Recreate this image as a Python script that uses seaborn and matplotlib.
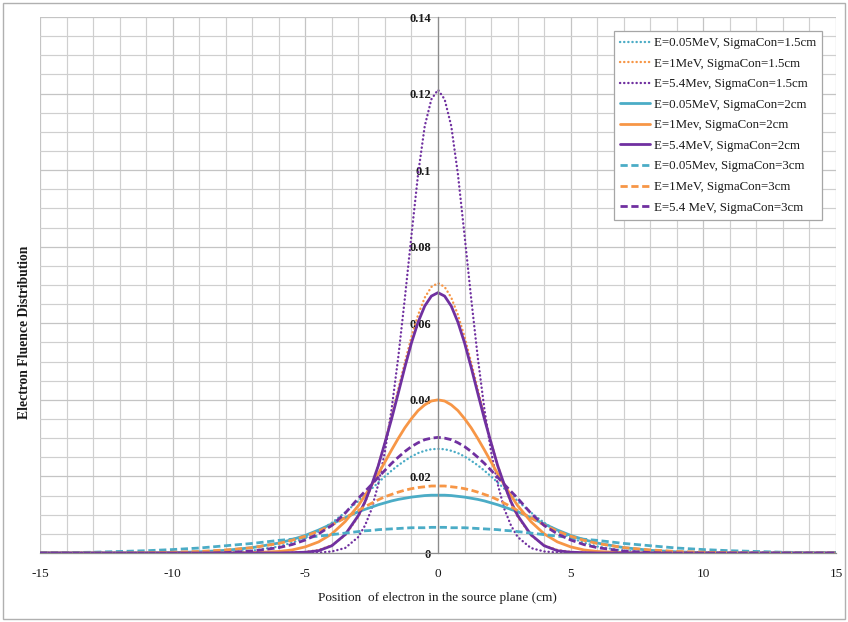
import numpy as np
import pandas as pd
import seaborn as sns
import matplotlib
matplotlib.use("Agg")
import matplotlib.pyplot as plt
from matplotlib.patches import Rectangle

# Position in the source plane (cm)
x_pos = [-15, -14, -13, -12, -11, -10, -9, -8, -7,
         -6, -5.5, -5, -4.5, -4, -3.5,
         -3, -2.75, -2.5, -2.25, -2, -1.75, -1.5, -1.25, -1, -0.75, -0.5, -0.25,
         0, 0.25, 0.5, 0.75, 1, 1.25, 1.5, 1.75, 2, 2.25, 2.5, 2.75, 3,
         3.5, 4, 4.5, 5, 5.5, 6,
         7, 8, 9, 10, 11, 12, 13, 14, 15]

# SigmaCon = 1.5 cm
e005_s15 = [0, 0, 0, 0, 0, 0, 0.0001, 0.0002, 0.0006,
            0.0017, 0.0027, 0.0040, 0.0057, 0.0079, 0.0106,
            0.0136, 0.0152, 0.0168, 0.0184, 0.0200, 0.0215, 0.0229, 0.0241, 0.0252, 0.0261, 0.0267, 0.0271,
            0.0272, 0.0271, 0.0267, 0.0261, 0.0252, 0.0241, 0.0229, 0.0215, 0.0200, 0.0184, 0.0168, 0.0152, 0.0136,
            0.0106, 0.0079, 0.0057, 0.0040, 0.0027, 0.0017,
            0.0006, 0.0002, 0.0001, 0, 0, 0, 0, 0, 0]
e1_s15 = [0, 0, 0, 0, 0, 0, 0, 0, 0,
          0, 0.0001, 0.0003, 0.0008, 0.0020, 0.0046,
          0.0095, 0.0131, 0.0176, 0.0229, 0.0290, 0.0357, 0.0428, 0.0498, 0.0565, 0.0622, 0.0667, 0.0695,
          0.0705, 0.0695, 0.0667, 0.0622, 0.0565, 0.0498, 0.0428, 0.0357, 0.0290, 0.0229, 0.0176, 0.0131, 0.0095,
          0.0046, 0.0020, 0.0008, 0.0003, 0.0001, 0,
          0, 0, 0, 0, 0, 0, 0, 0, 0]
e54_s15 = [0, 0, 0, 0, 0, 0, 0, 0, 0,
           0, 0, 0, 0.0001, 0.0004, 0.0013,
           0.0042, 0.0072, 0.0115, 0.0180, 0.0265, 0.0375, 0.0510, 0.0665, 0.0830, 0.0990, 0.1115, 0.1185,
           0.1210, 0.1185, 0.1115, 0.0990, 0.0830, 0.0665, 0.0510, 0.0375, 0.0265, 0.0180, 0.0115, 0.0072, 0.0042,
           0.0013, 0.0004, 0.0001, 0, 0, 0,
           0, 0, 0, 0, 0, 0, 0, 0, 0]

# SigmaCon = 2 cm
e005_s2 = [0, 0, 0, 0, 0, 0.0001, 0.0003, 0.0007, 0.0014,
           0.0026, 0.0035, 0.0046, 0.0060, 0.0076, 0.0092,
           0.0108, 0.0114, 0.0120, 0.0126, 0.0131, 0.0136, 0.0140, 0.0143, 0.0146, 0.0148, 0.0150, 0.0151,
           0.0151, 0.0151, 0.0150, 0.0148, 0.0146, 0.0143, 0.0140, 0.0136, 0.0131, 0.0126, 0.0120, 0.0114, 0.0108,
           0.0092, 0.0076, 0.0060, 0.0046, 0.0035, 0.0026,
           0.0014, 0.0007, 0.0003, 0.0001, 0, 0, 0, 0, 0]
e1_s2 = [0, 0, 0, 0, 0, 0, 0, 0, 0.0001,
         0.0004, 0.0008, 0.0016, 0.0029, 0.0050, 0.0082,
         0.0124, 0.0150, 0.0178, 0.0207, 0.0238, 0.0269, 0.0299, 0.0327, 0.0351, 0.0372, 0.0387, 0.0397,
         0.0400, 0.0397, 0.0387, 0.0372, 0.0351, 0.0327, 0.0299, 0.0269, 0.0238, 0.0207, 0.0178, 0.0150, 0.0124,
         0.0082, 0.0050, 0.0029, 0.0016, 0.0008, 0.0004,
         0.0001, 0, 0, 0, 0, 0, 0, 0, 0]
e54_s2 = [0, 0, 0, 0, 0, 0, 0, 0, 0,
          0, 0.0001, 0.0002, 0.0006, 0.0019, 0.0048,
          0.0098, 0.0134, 0.0178, 0.0228, 0.0288, 0.0350, 0.0417, 0.0485, 0.0549, 0.0603, 0.0645, 0.0671,
          0.0680, 0.0671, 0.0645, 0.0603, 0.0549, 0.0485, 0.0417, 0.0350, 0.0288, 0.0228, 0.0178, 0.0134, 0.0098,
          0.0048, 0.0019, 0.0006, 0.0002, 0.0001, 0,
          0, 0, 0, 0, 0, 0, 0, 0, 0]

# SigmaCon = 3 cm
e005_s3 = [0.0001, 0.0001, 0.0002, 0.0004, 0.0006, 0.0009, 0.0013, 0.0019, 0.0025,
           0.0033, 0.0036, 0.0040, 0.0044, 0.0048, 0.0052,
           0.0056, 0.0058, 0.0059, 0.0061, 0.0062, 0.0063, 0.0064, 0.0065, 0.0066, 0.0066, 0.0066, 0.0067,
           0.0067, 0.0067, 0.0066, 0.0066, 0.0066, 0.0065, 0.0064, 0.0063, 0.0062, 0.0061, 0.0059, 0.0058, 0.0056,
           0.0052, 0.0048, 0.0044, 0.0040, 0.0036, 0.0033,
           0.0025, 0.0019, 0.0013, 0.0009, 0.0006, 0.0004, 0.0002, 0.0001, 0.0001]
e1_s3 = [0, 0, 0, 0, 0.0001, 0.0002, 0.0004, 0.0008, 0.0014,
         0.0025, 0.0033, 0.0044, 0.0057, 0.0073, 0.0092,
         0.0111, 0.0121, 0.0130, 0.0139, 0.0147, 0.0153, 0.0159, 0.0164, 0.0168, 0.0171, 0.0173, 0.0175,
         0.0175, 0.0175, 0.0173, 0.0171, 0.0168, 0.0164, 0.0159, 0.0153, 0.0147, 0.0139, 0.0130, 0.0121, 0.0111,
         0.0092, 0.0073, 0.0057, 0.0044, 0.0033, 0.0025,
         0.0014, 0.0008, 0.0004, 0.0002, 0.0001, 0, 0, 0, 0]
e54_s3 = [0, 0, 0, 0, 0, 0, 0, 0.0001, 0.0005,
          0.0014, 0.0022, 0.0034, 0.0050, 0.0072, 0.0104,
          0.0143, 0.0161, 0.0179, 0.0198, 0.0216, 0.0234, 0.0250, 0.0265, 0.0278, 0.0288, 0.0296, 0.0300,
          0.0302, 0.0300, 0.0296, 0.0288, 0.0278, 0.0265, 0.0250, 0.0234, 0.0216, 0.0198, 0.0179, 0.0161, 0.0143,
          0.0104, 0.0072, 0.0050, 0.0034, 0.0022, 0.0014,
          0.0005, 0.0001, 0, 0, 0, 0, 0, 0, 0]

series_labels = [
    "E=0.05MeV, SigmaCon=1.5cm",
    "E=1MeV, SigmaCon=1.5cm",
    "E=5.4Mev, SigmaCon=1.5cm",
    "E=0.05MeV, SigmaCon=2cm",
    "E=1Mev, SigmaCon=2cm",
    "E=5.4MeV, SigmaCon=2cm",
    "E=0.05Mev, SigmaCon=3cm",
    "E=1MeV, SigmaCon=3cm",
    "E=5.4 MeV, SigmaCon=3cm",
]
series_values = [e005_s15, e1_s15, e54_s15,
                 e005_s2, e1_s2, e54_s2,
                 e005_s3, e1_s3, e54_s3]

x_ticks = [-15, -10, -5, 0, 5, 10, 15]
y_ticks = [0, 0.02, 0.04, 0.06, 0.08, 0.1, 0.12, 0.14]
y_tick_labels = ["0", "0.02", "0.04", "0.06", "0.08", "0.1", "0.12", "0.14"]

CYAN, ORANGE, PURPLE = "#4BACC6", "#F79646", "#7030A0"
colors = [CYAN, ORANGE, PURPLE] * 3
dotted = (0, (0.1, 1.65))
dashed = (0, (2.6, 1.3))
styles = [dotted] * 3 + ["-"] * 3 + [dashed] * 3
widths = [1.7] * 3 + [2.0] * 3 + [2.0] * 3

sns.set_theme(style="white")
plt.rcParams["font.family"] = ["Liberation Serif", "DejaVu Serif"]
plt.rcParams["axes.unicode_minus"] = False

fig = plt.figure(figsize=(8.48, 6.22), dpi=100)
ax = fig.add_axes([40 / 848, (622 - 553) / 622, 796 / 848, 536 / 622])

frame = pd.DataFrame({"x": x_pos})
for lbl, vals in zip(series_labels, series_values):
    frame[lbl] = vals

for lbl, col, ls, lw in zip(series_labels, colors, styles, widths):
    sns.lineplot(data=frame, x="x", y=lbl, ax=ax, color=col, linestyle=ls,
                 linewidth=lw, label=lbl, sort=False, estimator=None,
                 dash_capstyle="round" if ls == dotted else "butt",
                 solid_joinstyle="round")

ax.set_xlim(-15, 15)
ax.set_ylim(0, 0.14)
ax.set_xticks(x_ticks)
ax.set_xticks(np.arange(-15, 16, 1), minor=True)
ax.set_yticks(y_ticks)
ax.set_yticks(np.arange(0, 0.1401, 0.005), minor=True)
ax.set_yticklabels(y_tick_labels)
ax.grid(which="major", color="#c4c4c4", linewidth=0.9)
ax.grid(which="minor", color="#cfcfcf", linewidth=0.85)
ax.set_axisbelow(True)

for s in ["top", "right"]:
    ax.spines[s].set_visible(False)
ax.spines["left"].set_position(("data", 0))
ax.spines["left"].set_color("#8c8c8c")
ax.spines["bottom"].set_color("#8c8c8c")
ax.spines["left"].set_linewidth(0.9)
ax.spines["bottom"].set_linewidth(0.9)

ax.tick_params(axis="x", which="both", length=0, pad=11, labelsize=9.5, colors="#1a1a1a")
ax.tick_params(axis="y", which="both", length=0, pad=5, labelsize=9, colors="#1a1a1a")
for t in ax.get_yticklabels():
    t.set_fontweight("bold")

ax.set_xlabel("")
ax.set_ylabel("")
fig.text(437 / 848, 1 - 598 / 622, "Position  of electron in the source plane (cm)",
         ha="center", va="center", fontsize=9.5, color="#1a1a1a")
fig.text(25 / 848, 1 - 332 / 622, "Electron Fluence Distribution",
         ha="center", va="center", rotation=90, fontsize=9.8, fontweight="bold", color="#1a1a1a")

leg = ax.legend(loc="upper right", fontsize=9.3, frameon=True, fancybox=False,
                edgecolor="#a6a6a6", framealpha=1, handlelength=2.3,
                handletextpad=0.3, labelspacing=0.66, borderaxespad=1.05,
                borderpad=0.5)
leg.get_frame().set_linewidth(0.9)
for t in leg.get_texts():
    t.set_color("#1a1a1a")

# Outer chart border
fig.patches.append(Rectangle((3 / 848, 3 / 622), 842 / 848, 616 / 622,
                             transform=fig.transFigure, fill=False,
                             edgecolor="#b0b0b0", linewidth=1.0))

fig.savefig("out.png", dpi=100)
